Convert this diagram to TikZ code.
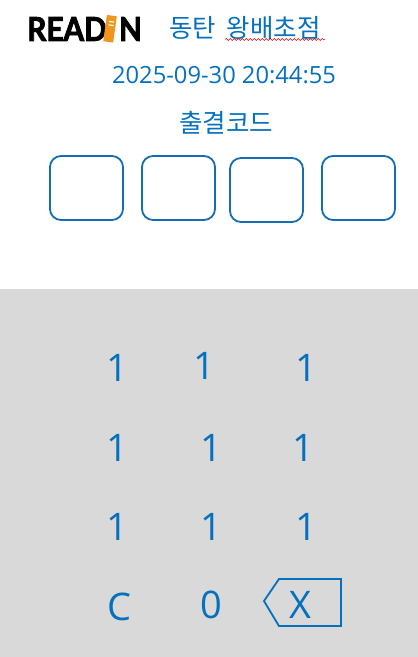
\documentclass[tikz,border=0pt]{standalone}
\usepackage{fontspec}
\setmainfont{Open Sans}
\newfontfamily\cjk{Noto Sans CJK KR}
\newfontfamily\logofont[FakeStretch=0.9,BoldFeatures={FakeBold=2.5}]{Lato}
\usetikzlibrary{decorations.pathmorphing}
\definecolor{blu}{RGB}{5,112,190}
\definecolor{boxblu}{RGB}{20,110,175}
\definecolor{pad}{RGB}{217,217,217}
\definecolor{orng}{RGB}{240,150,30}
\tikzset{
  txt/.style={text=blu,inner sep=0pt,anchor=center},
  key/.style={txt,font=\fontsize{38}{38}\selectfont},
  cell/.style={draw=boxblu,line width=1.8pt,rounded corners=11pt,fill=white},
  logo/.style={inner sep=0pt,text=black,font=\logofont\bfseries\fontsize{33}{33}\selectfont}
}
\begin{document}
\begin{tikzpicture}[x=1pt,y=-1pt]
\useasboundingbox (0,0) rectangle (418,657);
\fill[pad] (0,289) rectangle (418,657);
% logo
\node[logo,anchor=center] (lr) at (67,29) {READ};
\node[logo,anchor=center] (ln) at (130.5,29) {N};
\fill[orng,rotate around={-8:(110,29)}] (105,15.5) rectangle (115,42);
\fill[white,rotate around={-8:(110,29)}] (108,21) rectangle (113,22.2) (108,24.5) rectangle (113,25.7);
% header
\node[txt,font=\cjk\fontsize{25.5}{25.5}\selectfont] (title) at (245,28) {동탄\hspace{5pt} 왕배초점};
\coordinate (sqa) at (225,39.5);
\coordinate (sqb) at (325,39.5);
\draw[red!80!black,line width=0.5pt,decorate,decoration={snake,amplitude=1pt,segment length=4pt}] (sqa) -- (sqb);
\node[txt,font=\fontsize{23.7}{23.7}\selectfont] (time) at (224,75) {2025-09-30 20:44:55};
\node[txt,font=\cjk\fontsize{25.5}{25.5}\selectfont] (lab) at (226,123) {출결코드};
% cells
\draw[cell] (50,156) rectangle (123,220);
\draw[cell] (142,156) rectangle (215,220);
\draw[cell] (230,158) rectangle (303,222);
\draw[cell] (322,156) rectangle (395,220);
% keys
\node[key] (k1) at (117,368) {1};
\node[key] (k2) at (204,366) {1};
\node[key] (k3) at (306.5,368) {1};
\node[key] (k4) at (117,448) {1};
\node[key] (k5) at (211,448) {1};
\node[key] (k6) at (303,448) {1};
\node[key] (k7) at (117,527) {1};
\node[key] (k8) at (211,527) {1};
\node[key] (k9) at (306,527) {1};
\node[key] (kc) at (119,607) {C};
\node[key] (k0) at (211,605) {0};
\draw[draw=blu,line width=1.8pt] (341,579) -- (279,579) -- (264,601) -- (279,626) -- (341,626) -- cycle;
\node[key] (kx) at (300,605) {X};
\end{tikzpicture}
\end{document}
